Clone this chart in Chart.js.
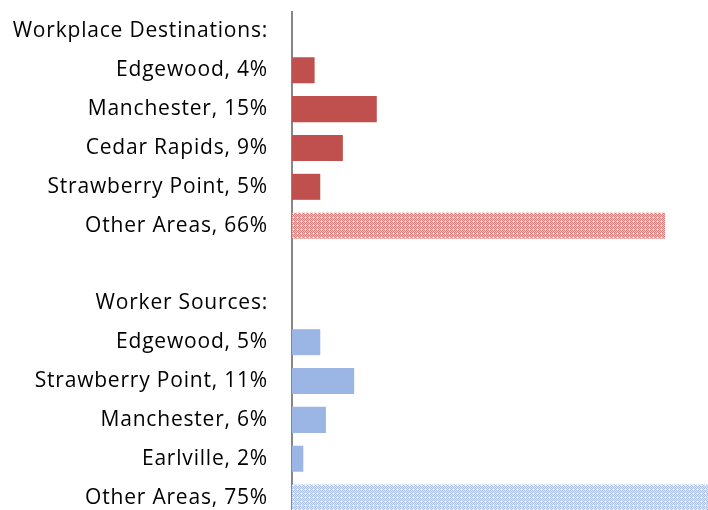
<!DOCTYPE html>
<html>
<head>
<meta charset="utf-8">
<script src="https://cdn.jsdelivr.net/npm/chart.js@4"></script>
<style>
  html, body { margin: 0; padding: 0; background: #fff; overflow: hidden; }
  #wrap { width: 708px; height: 518px; }
</style>
</head>
<body>
<div id="wrap"><canvas id="commute"></canvas></div>
<script>
// rows, top to bottom (header rows and the spacer have no bar)
const labels = [
  'Workplace Destinations:',
  'Edgewood, 4%',
  'Manchester, 15%',
  'Cedar Rapids, 9%',
  'Strawberry Point, 5%',
  'Other Areas, 66%',
  '',
  'Worker Sources:',
  'Edgewood, 5%',
  'Strawberry Point, 11%',
  'Manchester, 6%',
  'Earlville, 2%',
  'Other Areas, 75%'
];
const shares = [null, 4, 15, 9, 5, 66, null, null, 5, 11, 6, 2, 75];
const group = ['', 'dest', 'dest', 'dest', 'dest', 'destOther', '', '', 'src', 'src', 'src', 'src', 'srcOther'];

function dotPattern(dark, light) {
  const c = document.createElement('canvas');
  c.width = 4; c.height = 4;
  const g = c.getContext('2d');
  g.fillStyle = light;
  g.fillRect(0, 0, 4, 4);
  g.fillStyle = dark;
  for (let y = 0; y < 4; y++) {
    for (let x = 0; x < 4; x++) {
      if ((x + y) % 2 === 0) g.fillRect(x, y, 1, 1);
    }
  }
  g.fillStyle = '#ffffff';
  g.fillRect(1, 1, 1, 1);
  return g.createPattern(c, 'repeat');
}

const fills = {
  dest: '#C0504D',
  src: '#9BB5E4',
  destOther: dotPattern('#d9807e', '#efbfbe'),
  srcOther: dotPattern('#adc3eb', '#dbe5f7')
};

// the labels in the original are a bit spread out
const spacing = {
  id: 'spacing',
  beforeDraw(chart) { chart.ctx.letterSpacing = '0.8px'; }
};

new Chart(document.getElementById('commute'), {
  type: 'bar',
  data: {
    labels: labels,
    datasets: [{
      data: shares,
      backgroundColor: group.map(g => fills[g] || 'rgba(0,0,0,0)'),
      borderWidth: 0,
      categoryPercentage: 1,
      barPercentage: 0.67
    }]
  },
  options: {
    indexAxis: 'y',
    responsive: true,
    maintainAspectRatio: false,
    animation: false,
    layout: { padding: { top: 12, bottom: 1, left: 0, right: 0 } },
    plugins: { legend: { display: false }, tooltip: { enabled: false } },
    scales: {
      x: {
        display: false,
        min: 0,
        max: 73.6
      },
      y: {
        afterFit: s => { s.width = 292; s.paddingTop = 0; s.paddingBottom = 0; },
        grid: { display: false, drawTicks: false },
        border: { display: true, color: '#868686', width: 2 },
        ticks: {
          color: '#000',
          padding: 24,
          font: { family: '"Open Sans", sans-serif', size: 21 }
        }
      }
    }
  },
  plugins: [spacing]
});
</script>
</body>
</html>
